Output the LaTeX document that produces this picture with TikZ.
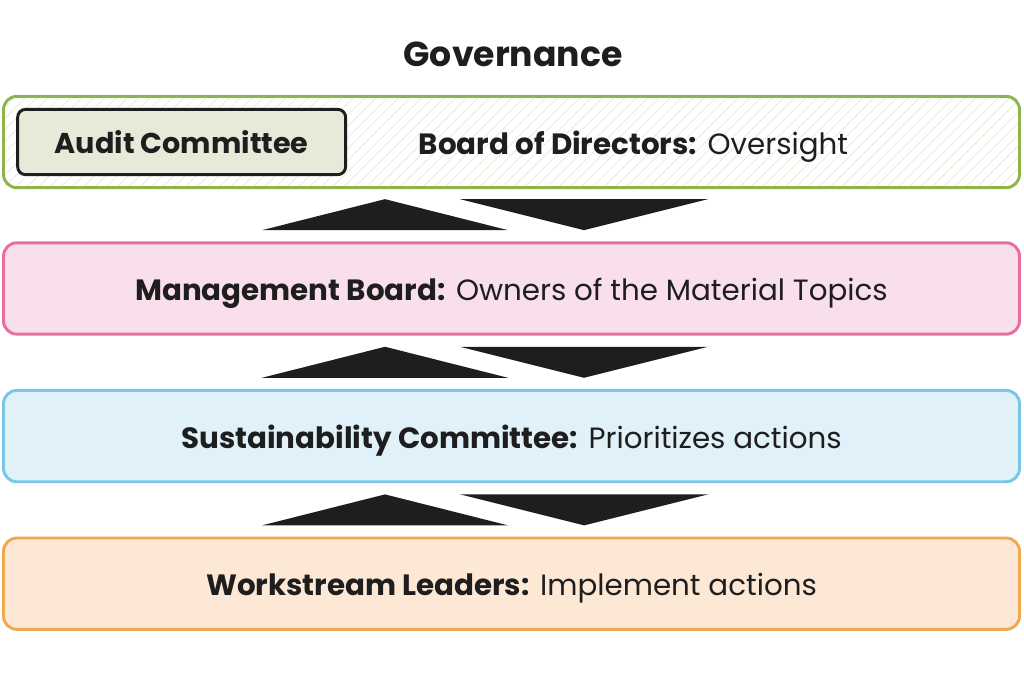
\documentclass[tikz,border=0pt]{standalone}
\usepackage{fontspec}
\setmainfont{Poppins}
\usetikzlibrary{positioning,calc,patterns.meta}

\definecolor{ink}{HTML}{1E1E1E}
\definecolor{hatch}{HTML}{E4EAD8}
\definecolor{boardline}{HTML}{8DB54E}
\definecolor{auditfill}{HTML}{E6EBD9}
\definecolor{mgmtline}{HTML}{E66FA0}
\definecolor{mgmtfill}{HTML}{F9DFEC}
\definecolor{sustline}{HTML}{78C7E6}
\definecolor{sustfill}{HTML}{E0F1FA}
\definecolor{workline}{HTML}{F0A852}
\definecolor{workfill}{HTML}{FCE8D5}

\begin{document}
\begin{tikzpicture}[x=0.75pt,y=-0.75pt,node distance=40pt,
		layer box/.style={draw,rounded corners=10pt,line width=2.2pt,minimum width=762pt,minimum height=68.5pt,text=ink,text height=18pt,text depth=0pt,font=\fontsize{22}{26}\selectfont},
		hatched/.style={pattern={Lines[angle=45,distance=6pt,line width=0.5pt]},pattern color=hatch},
		flow tri/.style={fill=ink}]
		\useasboundingbox (0,0) rectangle (1024,689);
		% title and layers
		\node[font=\bfseries\fontsize{26}{30}\selectfont,text=ink] (title) at (513,54) {Governance};
		\node[layer box,draw=boardline,hatched,preaction={fill=white}] (board) at (511.5,142) {};
		\node[layer box,draw=mgmtline,fill=mgmtfill] (mgmt) [below=of board] {\textbf{Management Board:} Owners of the Material Topics};
		\node[layer box,draw=sustline,fill=sustfill] (sust) [below=of mgmt] {\textbf{Sustainability Committee:} Prioritizes actions};
		\node[layer box,draw=workline,fill=workfill] (work) [below=of sust] {\textbf{Workstream Leaders:} Implement actions};
		\node[draw=ink,line width=2.2pt,rounded corners=6pt,fill=auditfill,minimum width=246pt,minimum height=49pt,text=ink,font=\bfseries\fontsize{21.5}{25}\selectfont,anchor=west] (audit) at ($(board.west)+(13,0)$) {Audit Committee};
		\node[text=ink,text height=18pt,text depth=0pt,font=\fontsize{22}{26}\selectfont] (boardtxt) at (633.5,142) {\textbf{Board of Directors:} Oversight};
		% up and down arrows between layers
		\foreach \a/\b in {board/mgmt,mgmt/sust,sust/work}{
			\coordinate (m) at ($(\a.south)!0.5!(\b.north)$);
			\fill[flow tri] ($(m)+(-249.5,15.5)$) -- ($(m)+(-3.5,15.5)$) -- ($(m)+(-126.5,-15.5)$) -- cycle;
			\fill[flow tri] ($(m)+(-51.5,-15.5)$) -- ($(m)+(196.5,-15.5)$) -- ($(m)+(72.5,15.5)$) -- cycle;
		}
\end{tikzpicture}
\end{document}
